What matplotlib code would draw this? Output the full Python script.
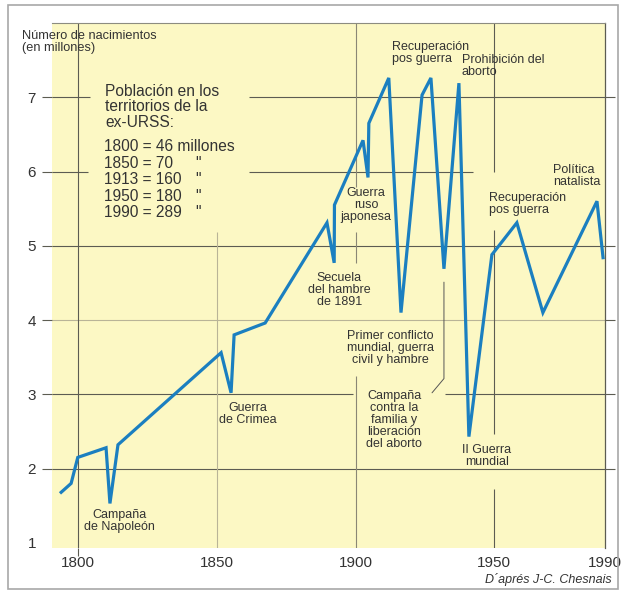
import matplotlib.pyplot as plt
from matplotlib.patches import Rectangle

plt.rcParams['font.family'] = ['Liberation Sans', 'DejaVu Sans']

# births in the ex-USSR territories (millions)
years = [1793.8, 1797.4, 1799.8, 1810.0, 1811.4, 1814.3, 1851.5, 1855.1,
         1856.2, 1867.4, 1889.7, 1892.3, 1892.4, 1902.7, 1904.5, 1904.8,
         1912.0, 1916.4, 1924.0, 1927.2, 1931.9, 1937.3, 1940.9, 1949.2,
         1958.2, 1967.6, 1987.1, 1989.3]
births = [1.68, 1.80, 2.15, 2.28, 1.53, 2.32, 3.56, 3.02,
          3.80, 3.96, 5.31, 4.77, 5.55, 6.42, 5.92, 6.65,
          7.26, 4.10, 7.03, 7.26, 4.69, 7.19, 2.43, 4.88,
          5.31, 4.10, 5.60, 4.84]

x_ticks = [1800, 1850, 1900, 1950, 1990]
y_ticks = [1, 2, 3, 4, 5, 6, 7]

info_title = 'Población en los\nterritorios de la\nex-URSS:'
pop_years = ['1800', '1850', '1913', '1950', '1990']
pop_values = ['46', '70', '160', '180', '289']

# (text, x, y, alignment)
events = [
    ('Campaña\nde Napoleón', 1815.0, 1.30, 'center'),
    ('Guerra\nde Crimea', 1861.2, 2.73, 'center'),
    ('Secuela\ndel hambre\nde 1891', 1894.2, 4.41, 'center'),
    ('Guerra\nruso\njaponesa', 1903.8, 5.55, 'center'),
    ('Recuperación\npos guerra', 1913.2, 7.60, 'left'),
    ('Prohibición del\naborto', 1938.4, 7.42, 'left'),
    ('Primer conflicto\nmundial, guerra\ncivil y hambre', 1912.6, 3.62, 'center'),
    ('Campaña\ncontra la\nfamilia y\nliberación\ndel aborto', 1913.9, 2.66, 'center'),
    ('II Guerra\nmundial', 1947.3, 2.17, 'center'),
    ('Recuperación\npos guerra', 1948.2, 5.56, 'left'),
    ('Política\nnatalista', 1971.2, 5.94, 'left'),
]

yellow = '#fcf8c4'
grid_dark = '#5c5c52'
grid_light = '#b9b497'
text_col = '#333333'
line_col = '#1b7fc0'

fig = plt.figure(figsize=(6.21, 5.91), dpi=100)
fig.patch.set_facecolor('white')
ax = fig.add_axes([52 / 621, 43 / 591, 553 / 621, 525 / 591])
ax.set_facecolor(yellow)
x0, x1 = 1790.5, 1990
y0, y1 = 0.93, 8.0
ax.set_xlim(x0, x1)
ax.set_ylim(y0, y1)

# broken grid lines (gaps left around the labels, as in the original)
h_segments = {
    7: [(x0, 1804.2), (1861.6, x1)],
    6: [(x0, 1803.5), (1861.6, 1942.4)],
    5: [(x0, x1)],
    3: [(x0, 1899.0), (1932.3, x1)],
    2: [(x0, x1)],
}
for yv, segs in h_segments.items():
    for a, b in segs:
        ax.hlines(yv, a, b, colors=grid_dark, lw=0.8, zorder=1)
ax.hlines(4, x0, x1, colors=grid_light, lw=0.8, zorder=1)

v_segments = {
    1800: ([(y0, y1)], grid_dark),
    1850: ([(y0, 5.19)], grid_light),
    1900: ([(y0, 3.24), (4.77, 5.19), (5.79, y1)], '#8a8775'),
    1950: ([(y0, 1.72), (2.46, 5.21), (5.99, y1)], grid_dark),
}
for xv, (segs, c) in v_segments.items():
    for a, b in segs:
        ax.vlines(xv, a, b, colors=c, lw=0.8, zorder=1)

ax.plot(years, births, color=line_col, lw=2.3, solid_joinstyle='miter', zorder=3)

# ticks
ax.set_xticks(x_ticks)
ax.set_yticks(y_ticks)
ax.tick_params(axis='y', left=True, right=True, length=7.5, width=0.8,
               color=grid_dark, pad=4, labelsize=11, labelcolor=text_col)
ax.tick_params(axis='x', length=5.5, width=0.8, color=grid_dark, pad=0.5,
               labelsize=11, labelcolor=text_col)
yt = ax.yaxis.get_major_ticks()
yt[0].tick1line.set_visible(False)
yt[0].tick2line.set_visible(False)
yt[5].tick2line.set_visible(False)
for t in ax.xaxis.get_major_ticks()[1:]:
    t.tick1line.set_visible(False)

for s in ['left', 'bottom']:
    ax.spines[s].set_visible(False)
ax.spines['top'].set_color('#8c8c80')
ax.spines['top'].set_linewidth(0.8)
ax.spines['right'].set_color(grid_dark)
ax.spines['right'].set_linewidth(0.9)

# y-axis title
fig.text(22 / 621, 1 - 30 / 591, 'Número de nacimientos\n(en millones)',
         fontsize=9.2, color=text_col, va='top', ha='left', linespacing=0.98)

# population box
ax.text(1809.6, 6.87, info_title, fontsize=11.2, color=text_col,
        ha='left', va='center', linespacing=1.02)
pop_lines = [f'{y} = {v}' for y, v in zip(pop_years, pop_values)]
ax.text(1809.4, 6.34, pop_lines[0] + ' millones', fontsize=11.2,
        color=text_col, ha='left', va='center')
ax.text(1809.4, 5.78, '\n'.join(pop_lines[1:]), fontsize=11.2,
        color=text_col, ha='left', va='center', linespacing=1.12)
ax.text(1843.2, 5.78, '\n'.join(['"'] * 4), fontsize=11.2,
        color=text_col, ha='center', va='center', linespacing=1.12)

for txt, x, y, ha in events:
    ax.text(x, y, txt, fontsize=9, color=text_col, ha=ha, va='center',
            multialignment=ha, linespacing=1.0, zorder=4)

# leader from the 1933 dip to its label
dip = births.index(4.69)
ax.annotate('', xy=(years[dip], births[dip] - 0.18), xytext=(1927.6, 3.02),
            arrowprops=dict(arrowstyle='-', color='#555555', lw=0.7,
                            shrinkA=0, shrinkB=0,
                            connectionstyle='angle,angleA=50,angleB=90,rad=0'))

fig.text(612 / 621, 1 - 579 / 591, 'D´aprés J-C. Chesnais', fontsize=9,
         style='italic', color=text_col, ha='right', va='center')

fig.add_artist(Rectangle((8 / 621, 2 / 591), 610 / 621, 584 / 591,
                         transform=fig.transFigure, fill=False,
                         edgecolor='#a8a8a8', lw=1.2))

fig.savefig('out.png', dpi=100)
